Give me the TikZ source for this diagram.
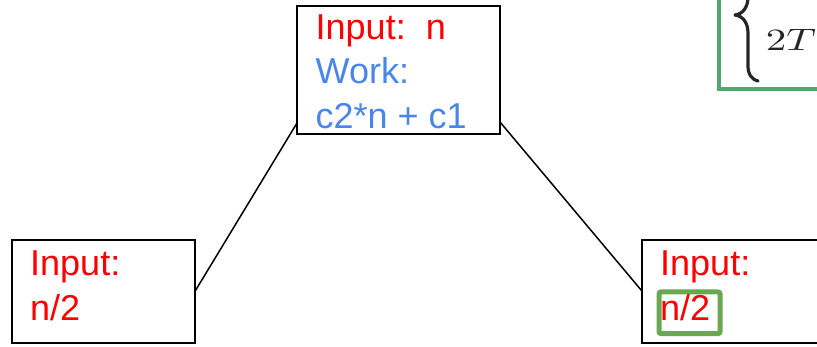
\documentclass[tikz,border=0pt]{standalone}
\usepackage[no-math]{fontspec}
\setmainfont{Liberation Sans}
\usepackage{amsmath}
\definecolor{inred}{HTML}{FF0000}
\definecolor{inblue}{HTML}{4A86E8}
\definecolor{gbig}{RGB}{85,165,115}
\definecolor{gsmall}{HTML}{6AA84F}
\begin{document}
\begin{tikzpicture}[x=1pt,y=-1pt,
  box/.style={draw=black,line width=2pt,inner sep=0pt,outer sep=0pt},
  lbl/.style={anchor=base west,inner sep=0pt,font=\fontsize{36}{44}\selectfont},
  redlbl/.style={lbl,text=inred},
  bluelbl/.style={lbl,text=inblue},
  conn/.style={line width=1.5pt,line cap=round},
  braceline/.style={draw=black!85,line width=3.2pt,line cap=round,line join=round},
  mathlbl/.style={inner sep=0pt,text=black!85,font=\fontsize{10}{12}\selectfont,transform shape}]
\useasboundingbox (0,0) rectangle (817,346);
% formula box (top right)
\node[draw=gbig,line width=4pt,inner sep=0pt,minimum width=121pt,minimum height=120pt] (formbox) at (779,29) {};
\draw[braceline] (758,81) .. controls (751,79) and (748,74) .. (748,66) -- (748,33)
  .. controls (748,23) and (743,16) .. (735,15)
  .. controls (743,14) and (748,7) .. (748,-3) -- (748,-30);
\node[mathlbl,anchor=base west,xscale=4.1,yscale=3.1] (f2) at (765,50) {$2T$};
% boxes
\node[box,minimum width=203pt,minimum height=128.5pt] (top) at (398.5,69.75) {};
\node[box,minimum width=182.2pt,minimum height=102.8pt] (left) at (103.4,291.1) {};
\node[box,minimum width=188pt,minimum height=102.8pt] (right) at (736,291.1) {};
% texts
\node[redlbl] (t1) at (315.5,39.3) {Input:\ \ n};
\node[bluelbl] (t2) at (315.5,83.5) {Work:};
\node[bluelbl] (t3) at (315.5,128.3) {c2*n + c1};
\node[redlbl] (l1) at (30,275) {Input:};
\node[redlbl] (l2) at (30,320) {n/2};
\node[redlbl] (r1) at (660,275) {Input:};
\node[redlbl] (r2) at (660,320) {n/2};
% highlight
\node[draw=gsmall,line width=5pt,rounded corners=2pt,inner sep=0pt,minimum width=61pt,minimum height=41.7pt] (hl) at (689.5,312.8) {};
% connectors
\draw[conn] ([yshift=11pt]top.south west) -- ([yshift=-1pt]left.east);
\draw[conn] ([yshift=12pt]top.south east) -- (right.west);
\end{tikzpicture}
\end{document}
